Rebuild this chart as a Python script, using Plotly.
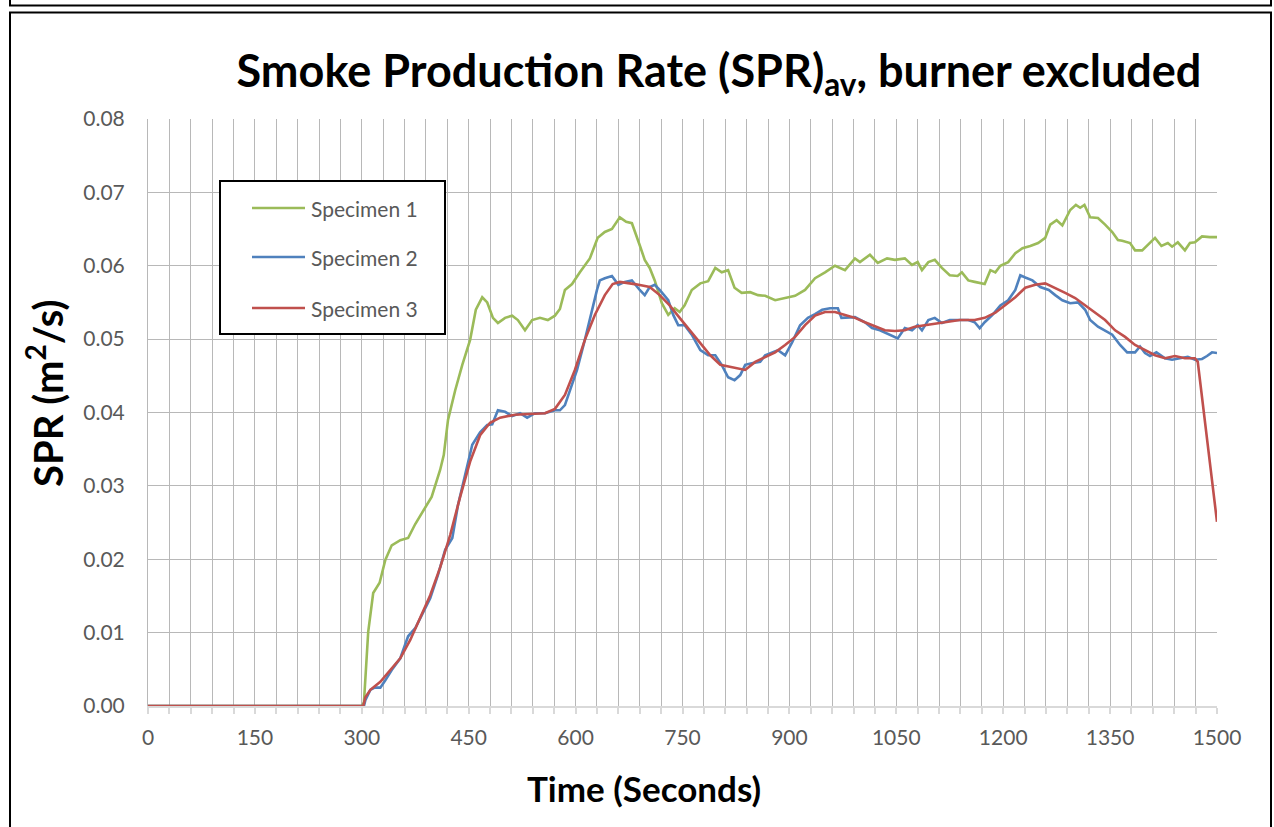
import plotly.graph_objects as go

# ---------------- data ----------------
t1 = [0, 300, 303, 309, 316, 325, 333, 342, 354, 365, 375, 389, 398, 410, 415, 421, 431, 441, 452, 460,
      469, 476, 484, 491, 501, 511, 519, 529, 539, 550, 561, 571, 578, 585, 595, 606, 613, 620, 631, 641,
      651, 662, 671, 679, 690, 697, 704, 711, 721, 730, 739, 746, 753, 763, 775, 786, 796, 805, 814, 823,
      833, 845, 856, 866, 880, 894, 908, 922, 936, 950, 964, 978, 992, 999, 1013, 1024, 1037, 1048, 1062, 1072,
      1080, 1086, 1095, 1104, 1114, 1125, 1136, 1142, 1151, 1160, 1174, 1182, 1189, 1196, 1207, 1217, 1227, 1238, 1249, 1259,
      1266, 1275, 1283, 1294, 1302, 1308, 1314, 1322, 1333, 1343, 1353, 1361, 1367, 1378, 1385, 1395, 1403, 1413, 1422, 1431,
      1437, 1445, 1455, 1462, 1469, 1479, 1490, 1500]
spec1 = [0, 0, 0.0005, 0.0101, 0.0154, 0.0168, 0.0199, 0.0219, 0.0226, 0.0229, 0.0248, 0.0271, 0.0285, 0.0322, 0.0342, 0.039, 0.043, 0.0465, 0.0499, 0.054,
         0.0557, 0.055, 0.0529, 0.0522, 0.0529, 0.0532, 0.0526, 0.0512, 0.0526, 0.0529, 0.0526, 0.0532, 0.0541, 0.0567, 0.0575, 0.0591, 0.060, 0.061, 0.0638, 0.0646,
         0.065, 0.0666, 0.066, 0.0658, 0.0628, 0.0608, 0.0597, 0.058, 0.0549, 0.0533, 0.0542, 0.0537, 0.0546, 0.0567, 0.0576, 0.0579, 0.0597, 0.0591, 0.0594, 0.057,
         0.0563, 0.0564, 0.056, 0.0559, 0.0553, 0.0556, 0.0559, 0.0567, 0.0583, 0.0591, 0.060, 0.0594, 0.061, 0.0605, 0.0615, 0.0604, 0.061, 0.0608, 0.061, 0.0601,
         0.0605, 0.0594, 0.0605, 0.0608, 0.0597, 0.0587, 0.0586, 0.0591, 0.058, 0.0578, 0.0575, 0.0594, 0.0591, 0.060, 0.0605, 0.0617, 0.0624, 0.0627, 0.0631, 0.0638,
         0.0656, 0.0662, 0.0655, 0.0676, 0.0683, 0.0679, 0.0683, 0.0666, 0.0665, 0.0656, 0.0646, 0.0635, 0.0634, 0.0631, 0.0621, 0.0621, 0.0628, 0.0638, 0.0627, 0.0631,
         0.0626, 0.0632, 0.0621, 0.0631, 0.0632, 0.064, 0.0639, 0.0639]

t2 = [0, 303, 305, 312, 318, 326, 333, 342, 354, 365, 375, 384, 396, 407, 417, 427, 435, 445, 455, 466,
      476, 483, 491, 501, 511, 522, 532, 543, 557, 571, 578, 585, 592, 602, 613, 623, 630, 634, 641, 651,
      660, 669, 679, 690, 697, 704, 711, 718, 730, 737, 744, 753, 763, 775, 786, 796, 805, 814, 823, 831,
      838, 847, 859, 866, 876, 884, 894, 904, 915, 926, 936, 946, 957, 968, 973, 982, 992, 1006, 1016, 1027,
      1041, 1052, 1062, 1072, 1080, 1086, 1095, 1104, 1114, 1125, 1139, 1151, 1160, 1167, 1174, 1185, 1196, 1207, 1217, 1224,
      1231, 1241, 1252, 1264, 1273, 1283, 1294, 1305, 1315, 1322, 1333, 1343, 1353, 1364, 1374, 1385, 1392, 1399, 1406, 1415,
      1427, 1437, 1448, 1459, 1469, 1479, 1486, 1493, 1500]
spec2 = [0, 0, 0.0008, 0.0022, 0.0025, 0.0025, 0.0035, 0.0049, 0.0065, 0.0095, 0.0106, 0.0124, 0.0147, 0.0179, 0.0213, 0.0229, 0.0274, 0.0315, 0.0356, 0.0373,
         0.0383, 0.0384, 0.0403, 0.0401, 0.0395, 0.0399, 0.0393, 0.0399, 0.0399, 0.0403, 0.0403, 0.041, 0.0431, 0.0458, 0.0499, 0.054, 0.0567, 0.058, 0.0583, 0.0586,
         0.0574, 0.0578, 0.058, 0.0567, 0.056, 0.0571, 0.0574, 0.0567, 0.0553, 0.0533, 0.0519, 0.0519, 0.0506, 0.0485, 0.0478, 0.0478, 0.0465, 0.0448, 0.0444, 0.0451,
         0.0465, 0.0467, 0.0469, 0.0478, 0.0482, 0.0485, 0.0478, 0.0496, 0.0519, 0.0529, 0.0534, 0.054, 0.0542, 0.0542, 0.0529, 0.0529, 0.053, 0.0523, 0.0515, 0.0512,
         0.0506, 0.0501, 0.0515, 0.0512, 0.0519, 0.0512, 0.0526, 0.0529, 0.0522, 0.0526, 0.0526, 0.0526, 0.0523, 0.0515, 0.0523, 0.0533, 0.0546, 0.0553, 0.0567, 0.0587,
         0.0584, 0.058, 0.0571, 0.0567, 0.056, 0.0553, 0.0549, 0.055, 0.054, 0.0526, 0.0517, 0.0512, 0.0506, 0.0492, 0.0482, 0.0482, 0.049, 0.0481, 0.0477, 0.0482,
         0.0474, 0.0472, 0.0474, 0.0476, 0.0472, 0.0473, 0.0477, 0.0482, 0.0481]

t3 = [0, 302, 305, 312, 326, 340, 354, 368, 382, 396, 410, 424, 438, 452, 466, 480, 494, 515, 536, 557,
      571, 585, 599, 613, 627, 641, 652, 662, 683, 704, 718, 732, 746, 760, 775, 789, 803, 823, 838, 852,
      866, 880, 894, 908, 922, 936, 950, 964, 978, 992, 1006, 1020, 1034, 1048, 1062, 1076, 1090, 1104, 1118, 1139,
      1160, 1174, 1189, 1203, 1217, 1231, 1245, 1259, 1273, 1287, 1301, 1315, 1329, 1343, 1357, 1371, 1385, 1399, 1413, 1427,
      1441, 1455, 1469, 1473, 1500]
spec3 = [0, 0, 0.0012, 0.0022, 0.0033, 0.0049, 0.0065, 0.009, 0.012, 0.0151, 0.0189, 0.0233, 0.0285, 0.0333, 0.0369, 0.0386, 0.0393, 0.0397, 0.0398, 0.0399,
         0.0405, 0.0424, 0.0458, 0.0499, 0.0533, 0.056, 0.0575, 0.0578, 0.0575, 0.0571, 0.056, 0.0546, 0.0529, 0.0512, 0.0495, 0.0478, 0.0465, 0.0461, 0.0458, 0.0469,
         0.0476, 0.0482, 0.0492, 0.0503, 0.0519, 0.0532, 0.0537, 0.0537, 0.0533, 0.0529, 0.0523, 0.0517, 0.0512, 0.0511, 0.0512, 0.0517, 0.0519, 0.0522, 0.0523, 0.0526,
         0.0526, 0.0529, 0.0536, 0.0546, 0.0557, 0.057, 0.0574, 0.0576, 0.057, 0.0563, 0.0556, 0.0546, 0.0537, 0.0526, 0.0512, 0.0503, 0.0492, 0.0485, 0.0478, 0.0474,
         0.0477, 0.0474, 0.0474, 0.0469, 0.0251]

series_names = ["Specimen 1", "Specimen 2", "Specimen 3"]
series_colors = ["#9BBB59", "#4F81BD", "#C0504D"]

x_ticks = [0, 150, 300, 450, 600, 750, 900, 1050, 1200, 1350, 1500]
y_ticks = [0.0, 0.01, 0.02, 0.03, 0.04, 0.05, 0.06, 0.07, 0.08]

# ---------------- layout geometry ----------------
W, H = 1274, 827
L, R, T, B = 148, 1217, 119, 706  # plot area in pixels


def px(x):
    return (x - L) / (R - L)


def py(y):
    return (B - y) / (B - T)


FONT = "Lato"
TICK_COLOR = "#595959"
GRID = "#B8B8B8"
AXIS = "#D9D9D9"

fig = go.Figure()
for t, v, name, col in zip([t1, t2, t3], [spec1, spec2, spec3], series_names, series_colors):
    fig.add_trace(go.Scatter(x=t, y=v, mode="lines", name=name,
                             line=dict(color=col, width=2.6), cliponaxis=False,
                             showlegend=False))

shapes = []
annotations = []

# outer frames
shapes.append(dict(type="rect", xref="paper", yref="paper",
                   x0=px(10), x1=px(1271), y0=py(12.5), y1=py(840),
                   line=dict(color="black", width=2), fillcolor="rgba(0,0,0,0)", layer="below"))
shapes.append(dict(type="rect", xref="paper", yref="paper",
                   x0=px(10), x1=px(1271), y0=py(-20), y1=py(5.5),
                   line=dict(color="black", width=2), fillcolor="rgba(0,0,0,0)", layer="below"))

# manual legend
shapes.append(dict(type="rect", xref="paper", yref="paper",
                   x0=px(220), x1=px(445), y0=py(181), y1=py(334),
                   line=dict(color="black", width=2), fillcolor="white", layer="above"))
for i, (name, col) in enumerate(zip(series_names, series_colors)):
    yy = [208, 257, 308][i]
    shapes.append(dict(type="line", xref="paper", yref="paper",
                       x0=px(252), x1=px(305), y0=py(yy), y1=py(yy),
                       line=dict(color=col, width=2.6), layer="above"))
    annotations.append(dict(text=name, xref="paper", yref="paper", x=px(309), y=py(yy),
                            xanchor="left", yanchor="middle", showarrow=False,
                            font=dict(family=FONT, size=21, color=TICK_COLOR)))

# axis titles
annotations.append(dict(text="<b>Time (Seconds)</b>", xref="paper", yref="paper",
                        x=px(644), y=py(788), xanchor="center", yanchor="middle", showarrow=False,
                        font=dict(family=FONT, size=35, color="black")))
annotations.append(dict(text="<b>SPR (m<sup>2</sup>/s)</b>", xref="paper", yref="paper",
                        x=px(45), y=py(394), xanchor="center", yanchor="middle", showarrow=False,
                        textangle=-90, font=dict(family=FONT, size=40, color="black")))

fig.update_layout(
    width=W, height=H,
    margin=dict(l=L, r=W - R, t=T, b=H - B, pad=0),
    paper_bgcolor="white", plot_bgcolor="white",
    title=dict(text="<b>Smoke Production Rate (SPR)<sub>av</sub>, burner excluded</b>",
               x=719 / W, xanchor="center", y=1 - 71 / H, yanchor="middle",
               font=dict(family=FONT, size=45, color="black")),
    shapes=shapes, annotations=annotations,
    showlegend=False,
    # secondary x axis only carries the short 15 s minor ticks
    xaxis2=dict(overlaying="x", anchor="y", side="bottom", range=[0, 1500],
                tickmode="linear", tick0=0, dtick=15, ticks="inside", ticklen=6,
                tickcolor=AXIS, tickwidth=1.5, showticklabels=False,
                showgrid=False, showline=False, zeroline=False, fixedrange=True),
)

fig.layout.xaxis.update(
    range=[0, 1500], tickmode="array", tickvals=x_ticks,
    showgrid=True, gridcolor=GRID, gridwidth=1,
    showline=True, linecolor=AXIS, linewidth=1.5,
    ticks="outside", ticklen=6, tickcolor=AXIS, tickwidth=1.5,
    minor=dict(tickmode="linear", tick0=0, dtick=30, ticks="outside", ticklen=6,
               tickcolor=AXIS, tickwidth=1.5, showgrid=True, gridcolor=GRID, gridwidth=1),
    tickfont=dict(family=FONT, size=21, color=TICK_COLOR),
    ticklabelstandoff=6, zeroline=False, fixedrange=True,
)
fig.layout.yaxis.update(
    range=[0, 0.08], tickmode="array", tickvals=y_ticks, tickformat=".2f",
    showgrid=True, gridcolor=GRID, gridwidth=1,
    showline=True, linecolor=GRID, linewidth=1,
    ticks="", tickfont=dict(family=FONT, size=21, color=TICK_COLOR),
    ticklabelstandoff=18, zeroline=False, fixedrange=True,
)

fig.write_html("out.html", config={"displayModeBar": False},
               post_script="document.body.style.margin='0';")
